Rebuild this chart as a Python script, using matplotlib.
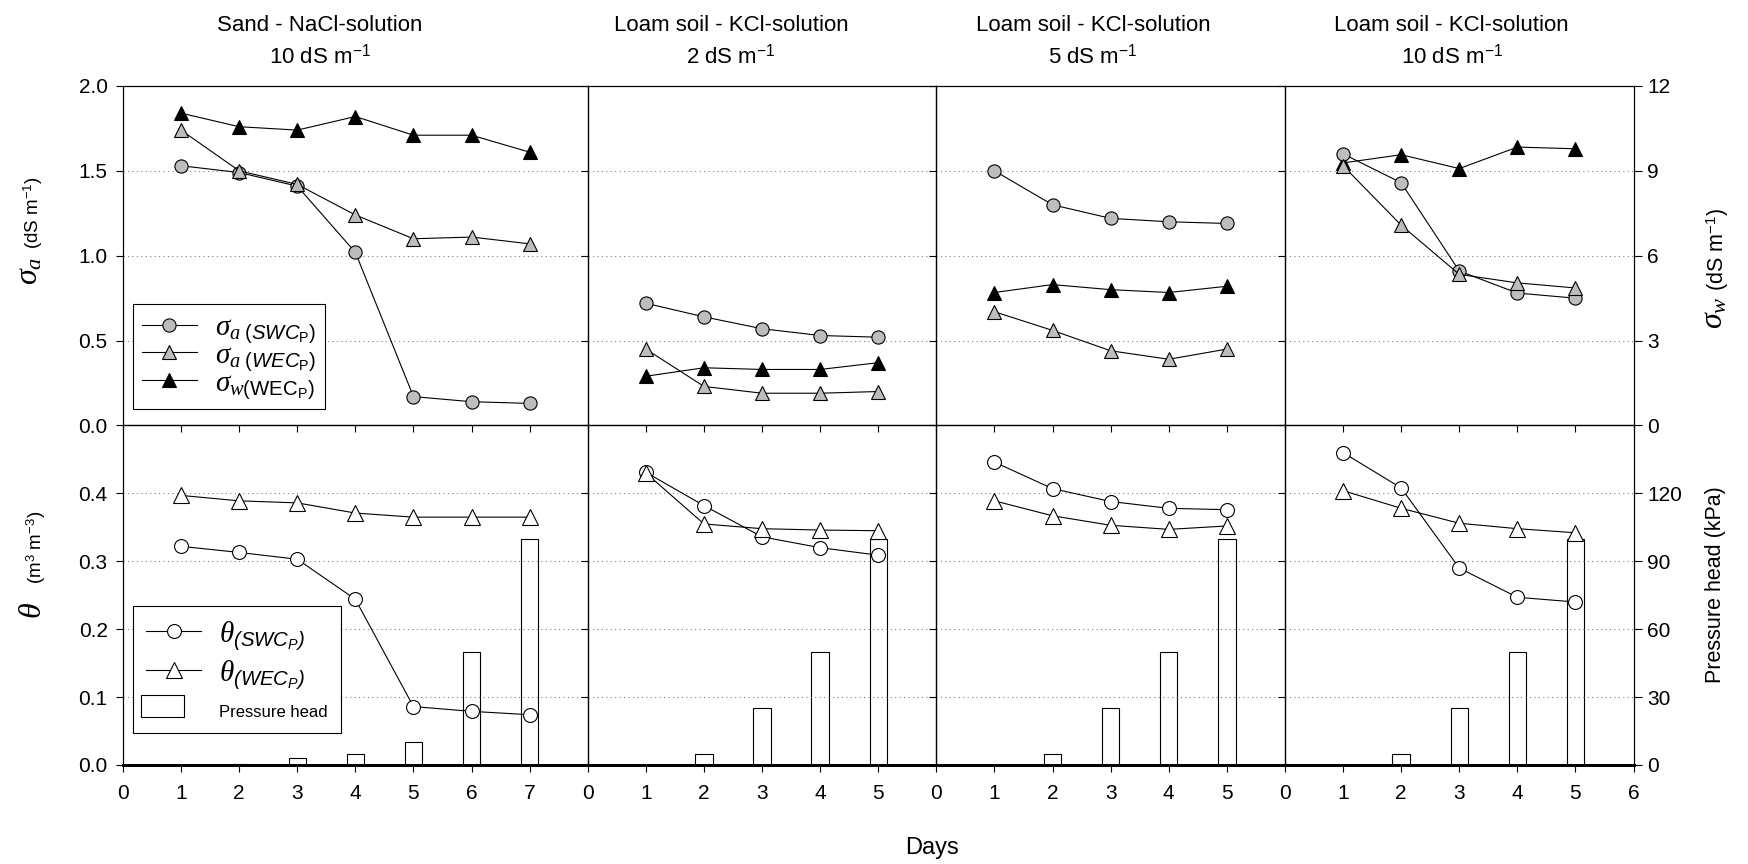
import numpy as np
import matplotlib
matplotlib.use('Agg')
import matplotlib.pyplot as plt
from matplotlib.patches import Patch, Rectangle
from matplotlib.legend_handler import HandlerPatch

plt.rcParams['font.family'] = ['Liberation Sans', 'DejaVu Sans']
plt.rcParams['mathtext.fontset'] = 'custom'
plt.rcParams['mathtext.rm'] = 'Liberation Sans'
plt.rcParams['mathtext.it'] = 'Liberation Serif:italic'
plt.rcParams['mathtext.sf'] = 'Liberation Sans:italic'
plt.rcParams['mathtext.bf'] = 'Liberation Sans:bold'

# days
days_sand = [1, 2, 3, 4, 5, 6, 7]
days_loam = [1, 2, 3, 4, 5]

# sand - NaCl 10 dS/m
sand_sa_swc = [1.53, 1.49, 1.41, 1.02, 0.17, 0.14, 0.13]
sand_sa_wec = [1.74, 1.50, 1.42, 1.24, 1.10, 1.11, 1.07]
sand_sw_wec = [11.04, 10.56, 10.44, 10.92, 10.26, 10.26, 9.66]
sand_th_swc = [0.322, 0.313, 0.303, 0.244, 0.086, 0.079, 0.074]
sand_th_wec = [0.397, 0.389, 0.386, 0.371, 0.365, 0.365, 0.365]
sand_ph = [0, 0.5, 3, 5, 10, 50, 100]

# loam - KCl 2 dS/m
loam2_sa_swc = [0.72, 0.64, 0.57, 0.53, 0.52]
loam2_sa_wec = [0.45, 0.23, 0.19, 0.19, 0.20]
loam2_sw_wec = [1.74, 2.04, 1.98, 1.98, 2.22]
loam2_th_swc = [0.431, 0.382, 0.336, 0.320, 0.309]
loam2_th_wec = [0.430, 0.355, 0.348, 0.346, 0.345]

# loam - KCl 5 dS/m
loam5_sa_swc = [1.50, 1.30, 1.22, 1.20, 1.19]
loam5_sa_wec = [0.67, 0.56, 0.44, 0.39, 0.45]
loam5_sw_wec = [4.70, 4.98, 4.80, 4.70, 4.92]
loam5_th_swc = [0.446, 0.407, 0.388, 0.378, 0.376]
loam5_th_wec = [0.389, 0.367, 0.353, 0.347, 0.352]

# loam - KCl 10 dS/m
loam10_sa_swc = [1.60, 1.43, 0.91, 0.78, 0.75]
loam10_sa_wec = [1.53, 1.18, 0.89, 0.84, 0.81]
loam10_sw_wec = [9.28, 9.57, 9.08, 9.84, 9.78]
loam10_th_swc = [0.460, 0.408, 0.290, 0.247, 0.240]
loam10_th_wec = [0.404, 0.378, 0.356, 0.348, 0.342]

loam_ph = [0, 5, 25, 50, 100]

titles = ['Sand - NaCl-solution', 'Loam soil - KCl-solution',
          'Loam soil - KCl-solution', 'Loam soil - KCl-solution']
subtitles = ['10 dS m$^{-1}$', '2 dS m$^{-1}$', '5 dS m$^{-1}$', '10 dS m$^{-1}$']
title_x = [0.183, 0.418, 0.625, 0.830]

top_data = [(days_sand, sand_sa_swc, sand_sa_wec, sand_sw_wec),
            (days_loam, loam2_sa_swc, loam2_sa_wec, loam2_sw_wec),
            (days_loam, loam5_sa_swc, loam5_sa_wec, loam5_sw_wec),
            (days_loam, loam10_sa_swc, loam10_sa_wec, loam10_sw_wec)]
bot_data = [(days_sand, sand_th_swc, sand_th_wec, sand_ph),
            (days_loam, loam2_th_swc, loam2_th_wec, loam_ph),
            (days_loam, loam5_th_swc, loam5_th_wec, loam_ph),
            (days_loam, loam10_th_swc, loam10_th_wec, loam_ph)]
xmax = [8, 6, 6, 6]
xticks = [range(0, 8), range(0, 6), range(0, 6), range(0, 7)]

gray = '#bdbdbd'
fs_tick = 15

fig = plt.figure(figsize=(17.49, 8.64), dpi=100)
gs = fig.add_gridspec(2, 4, width_ratios=[8, 6, 6, 6], hspace=0, wspace=0,
                      left=0.0703, right=0.934, top=0.9005, bottom=0.1146)


def style(ax, axr, i, bottom_row):
    for a in (ax, axr):
        for sp in a.spines.values():
            sp.set_linewidth(0.8)
    ax.tick_params(axis='both', direction='out', length=5, width=0.8,
                   labelsize=fs_tick)
    ax.tick_params(axis='y', pad=6)
    ax.tick_params(axis='x', pad=9)
    axr.tick_params(axis='y', direction='out', length=6, width=0.8,
                    labelsize=fs_tick, pad=4)
    if i > 0:
        ax.tick_params(labelleft=False)
    if i < 3:
        axr.tick_params(right=False, labelright=False)
    if not bottom_row:
        ax.tick_params(labelbottom=False)
    ax.set_xlim(0, xmax[i])
    ax.set_xticks(list(xticks[i]))
    ax.set_zorder(axr.get_zorder() + 1)
    ax.patch.set_visible(False)


def narrow_rect(legend, orig_handle, xdescent, ydescent, width, height, fontsize):
    # pressure head box in the legend is shorter than the line handles
    return Rectangle((-xdescent - 0.1 * width, -ydescent),
                     0.78 * width, 1.05 * height)


leg_kw = dict(loc='upper left', bbox_transform=fig.transFigure, fancybox=False,
              edgecolor='black', framealpha=1, fontsize=21, handlelength=1.9,
              handletextpad=0.6, borderaxespad=0)

for i in range(4):
    days, sa_swc, sa_wec, sw_wec = top_data[i]
    ax = fig.add_subplot(gs[0, i])
    axr = ax.twinx()
    style(ax, axr, i, False)
    axr.grid(axis='y', ls=(0, (1, 3)), color='gray', lw=0.8)
    l3, = axr.plot(days, sw_wec, '-^', color='black', mfc='black', mec='black',
                   ms=10, lw=0.8, mew=0.8)
    l1, = ax.plot(days, sa_swc, '-o', color='black', mfc=gray, mec='black',
                  ms=9.5, lw=0.8, mew=0.8)
    l2, = ax.plot(days, sa_wec, '-^', color='black', mfc=gray, mec='black',
                  ms=10, lw=0.8, mew=0.8)
    ax.set_ylim(0, 2)
    ax.set_yticks([0, 0.5, 1.0, 1.5, 2.0])
    ax.yaxis.set_major_formatter('{x:.1f}')
    axr.set_ylim(0, 12)
    axr.set_yticks([0, 3, 6, 9, 12])
    if i == 0:
        leg = ax.legend([l1, l2, l3],
                        [r'$\sigma_{a\ (\mathsf{SWC}_\mathrm{P})}$',
                         r'$\sigma_{a\ (\mathsf{WEC}_\mathrm{P})}$',
                         r'$\sigma_{w(\mathrm{WEC}_\mathrm{P})}$'],
                        bbox_to_anchor=(0.076, 0.648), labelspacing=-0.15,
                        borderpad=0.3, **leg_kw)
        leg.get_frame().set_linewidth(0.8)
    fig.text(title_x[i], 0.964, titles[i], ha='center', va='baseline', fontsize=16)
    fig.text(title_x[i], 0.926, subtitles[i], ha='center', va='baseline', fontsize=16)

for i in range(4):
    days, th_swc, th_wec, ph = bot_data[i]
    ax = fig.add_subplot(gs[1, i])
    axr = ax.twinx()
    style(ax, axr, i, True)
    ax.spines['bottom'].set_linewidth(2)
    axr.spines['bottom'].set_linewidth(2)
    axr.grid(axis='y', ls=(0, (1, 3)), color='gray', lw=0.8)
    axr.bar(days, ph, width=0.3, color='white', edgecolor='black', lw=0.8)
    l1, = ax.plot(days, th_swc, '-o', color='black', mfc='white', mec='black',
                  ms=10, lw=0.8, mew=0.8)
    l2, = ax.plot(days, th_wec, '-^', color='black', mfc='white', mec='black',
                  ms=11, lw=0.8, mew=0.8)
    ax.set_ylim(0, 0.5)
    ax.set_yticks([0, 0.1, 0.2, 0.3, 0.4])
    ax.yaxis.set_major_formatter('{x:.1f}')
    axr.set_ylim(0, 150)
    axr.set_yticks([0, 30, 60, 90, 120])
    if i == 0:
        ph_patch = Patch(facecolor='white', edgecolor='black', lw=0.8)
        leg = ax.legend([l1, l2, ph_patch],
                        [r'$\theta_{\mathsf{(SWC_P)}}$',
                         r'$\theta_{\mathsf{(WEC_P)}}$',
                         'Pressure head'],
                        bbox_to_anchor=(0.076, 0.299), labelspacing=0.2,
                        borderpad=0.45,
                        handler_map={Patch: HandlerPatch(patch_func=narrow_rect)},
                        **leg_kw)
        leg.get_texts()[2].set_fontsize(12)
        leg.get_frame().set_linewidth(0.8)

# axis labels
fig.text(0.017, 0.686, r'$\sigma_a$', rotation=90, ha='center', va='center', fontsize=23)
fig.text(0.019, 0.754, '(dS m$^{-1}$)', rotation=90, ha='center', va='center', fontsize=13.5)
fig.text(0.019, 0.293, r'$\theta$', rotation=90, ha='center', va='center', fontsize=23)
fig.text(0.021, 0.366, '(m$^3$ m$^{-3}$)', rotation=90, ha='center', va='center', fontsize=13.5)
fig.text(0.980, 0.638, r'$\sigma_w$', rotation=90, ha='center', va='center', fontsize=23)
fig.text(0.982, 0.711, '(dS m$^{-1}$)', rotation=90, ha='center', va='center', fontsize=15.5)
fig.text(0.981, 0.323, 'Pressure head (kPa)', rotation=90, ha='center', va='center', fontsize=15.5)
fig.text(0.533, 0.019, 'Days', ha='center', va='center', fontsize=17)

fig.savefig('out.png', dpi=100)
